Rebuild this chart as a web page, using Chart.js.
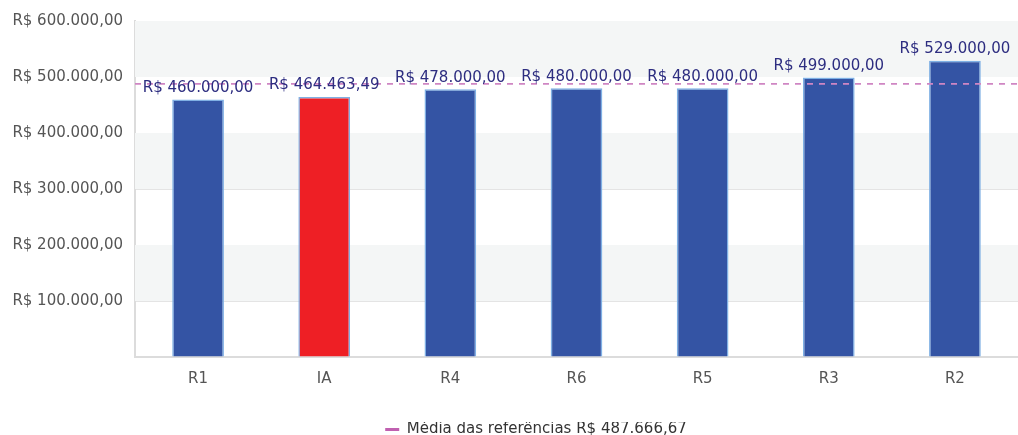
<!DOCTYPE html>
<html>
<head>
<meta charset="utf-8">
<script src="https://cdn.jsdelivr.net/npm/chart.js@4.4.0/dist/chart.umd.min.js"></script>
<style>
html,body{margin:0;padding:0;background:#fff;}
#wrap{width:1018px;height:435px;position:relative;}
</style>
</head>
<body>
<div id="wrap"><canvas id="c"></canvas></div>
<script>
const categories = ['R1', 'IA', 'R4', 'R6', 'R5', 'R3', 'R2'];
const values = [460000.00, 464463.49, 478000.00, 480000.00, 480000.00, 499000.00, 529000.00];
const barColors = ['#3454a4', '#ee1f25', '#3454a4', '#3454a4', '#3454a4', '#3454a4', '#3454a4'];
const meanValue = 487666.67;
const meanLabel = 'Média das referências R$ 487.666,67';
const yTicks = [0, 100000, 200000, 300000, 400000, 500000, 600000];

function brl(v) {
  const neg = v < 0; v = Math.abs(v);
  const fixed = v.toFixed(2);
  let [int, dec] = fixed.split('.');
  int = int.replace(/\B(?=(\d{3})+(?!\d))/g, '.');
  return (neg ? '-' : '') + 'R$ ' + int + ',' + dec;
}

Chart.defaults.font.family = "'DejaVu Sans', sans-serif";
Chart.defaults.font.size = 15;
Chart.defaults.color = '#555';

const bandsPlugin = {
  id: 'bands',
  beforeDatasetsDraw(chart) {
    const {ctx, chartArea, scales} = chart;
    const y = scales.y;
    ctx.save();
    ctx.fillStyle = '#f4f6f6';
    for (let i = 0; i < yTicks.length - 1; i++) {
      if (i % 2 === 1) {
        const top = y.getPixelForValue(yTicks[i + 1]);
        const bot = y.getPixelForValue(yTicks[i]);
        ctx.fillRect(chartArea.left, top, chartArea.right - chartArea.left, bot - top);
      }
    }
    ctx.restore();
  }
};

const labelsPlugin = {
  id: 'barLabels',
  afterDatasetsDraw(chart) {
    const {ctx} = chart;
    const meta = chart.getDatasetMeta(0);
    ctx.save();
    ctx.font = "15px 'DejaVu Sans', sans-serif";
    ctx.fillStyle = '#2d2d80';
    ctx.textAlign = 'center';
    ctx.textBaseline = 'bottom';
    meta.data.forEach((el, i) => {
      ctx.fillText(brl(values[i]), el.x, el.y - 4);
    });
    ctx.restore();
  }
};

const legendShift = {
  id: 'legendShift',
  afterLayout(chart) {
    if (chart.legend) {
      chart.legend.left += 27;
      chart.legend.right += 27;
    }
  }
};

new Chart(document.getElementById('c'), {
  type: 'bar',
  data: {
    labels: categories,
    datasets: [
      {
        type: 'bar',
        label: 'Valores',
        data: values,
        backgroundColor: barColors,
        borderColor: '#7fb0e4',
        borderWidth: 1.5,
        grouped: false,
        barPercentage: 0.82,
        categoryPercentage: 0.5,
        order: 2
      },
      {
        type: 'line',
        label: meanLabel,
        xAxisID: 'x2',
        data: [{x: 0, y: meanValue}, {x: 1, y: meanValue}],
        borderColor: '#cf86c3',
        borderWidth: 1.6,
        borderDash: [6, 6],
        pointRadius: 0,
        fill: false,
        order: 1
      }
    ]
  },
  options: {
    responsive: true,
    maintainAspectRatio: false,
    animation: false,
    layout: {padding: {top: 11, right: 0, left: 0, bottom: -12}},
    plugins: {
      tooltip: {enabled: false},
      legend: {
        position: 'bottom',
        labels: {
          usePointStyle: true,
          pointStyle: 'line',
          pointStyleWidth: 14,
          padding: 0,
          color: '#333',
          font: {size: 15},
          filter: item => item.datasetIndex === 1,
          generateLabels(chart) {
            const items = Chart.defaults.plugins.legend.labels.generateLabels(chart);
            items.forEach(it => { it.lineDash = []; it.lineWidth = 3; it.strokeStyle = '#c060b0'; });
            return items;
          }
        }
      }
    },
    scales: {
      x: {
        type: 'category',
        offset: true,
        grid: {display: false, drawTicks: false},
        border: {color: '#dcdcdc', width: 2},
        ticks: {padding: 13, color: '#555', font: {size: 15}},
        afterFit(scale) { scale.height = 65; }
      },
      x2: {
        type: 'linear',
        display: false,
        offset: false,
        grid: {offset: false},
        min: 0,
        max: 1
      },
      y: {
        min: 0,
        max: 600000,
        afterBuildTicks(scale) {
          scale.ticks = yTicks.map(v => ({value: v}));
        },
        afterFit(scale) { scale.width = 135; },
        grid: {color: '#e4e4e4', lineWidth: 1, drawTicks: false},
        border: {color: '#dcdcdc', width: 2},
        ticks: {
          padding: 12,
          color: '#555',
          font: {size: 15},
          callback: v => v === 0 ? '' : brl(v)
        }
      }
    }
  },
  plugins: [bandsPlugin, labelsPlugin, legendShift]
});
</script>
</body>
</html>
